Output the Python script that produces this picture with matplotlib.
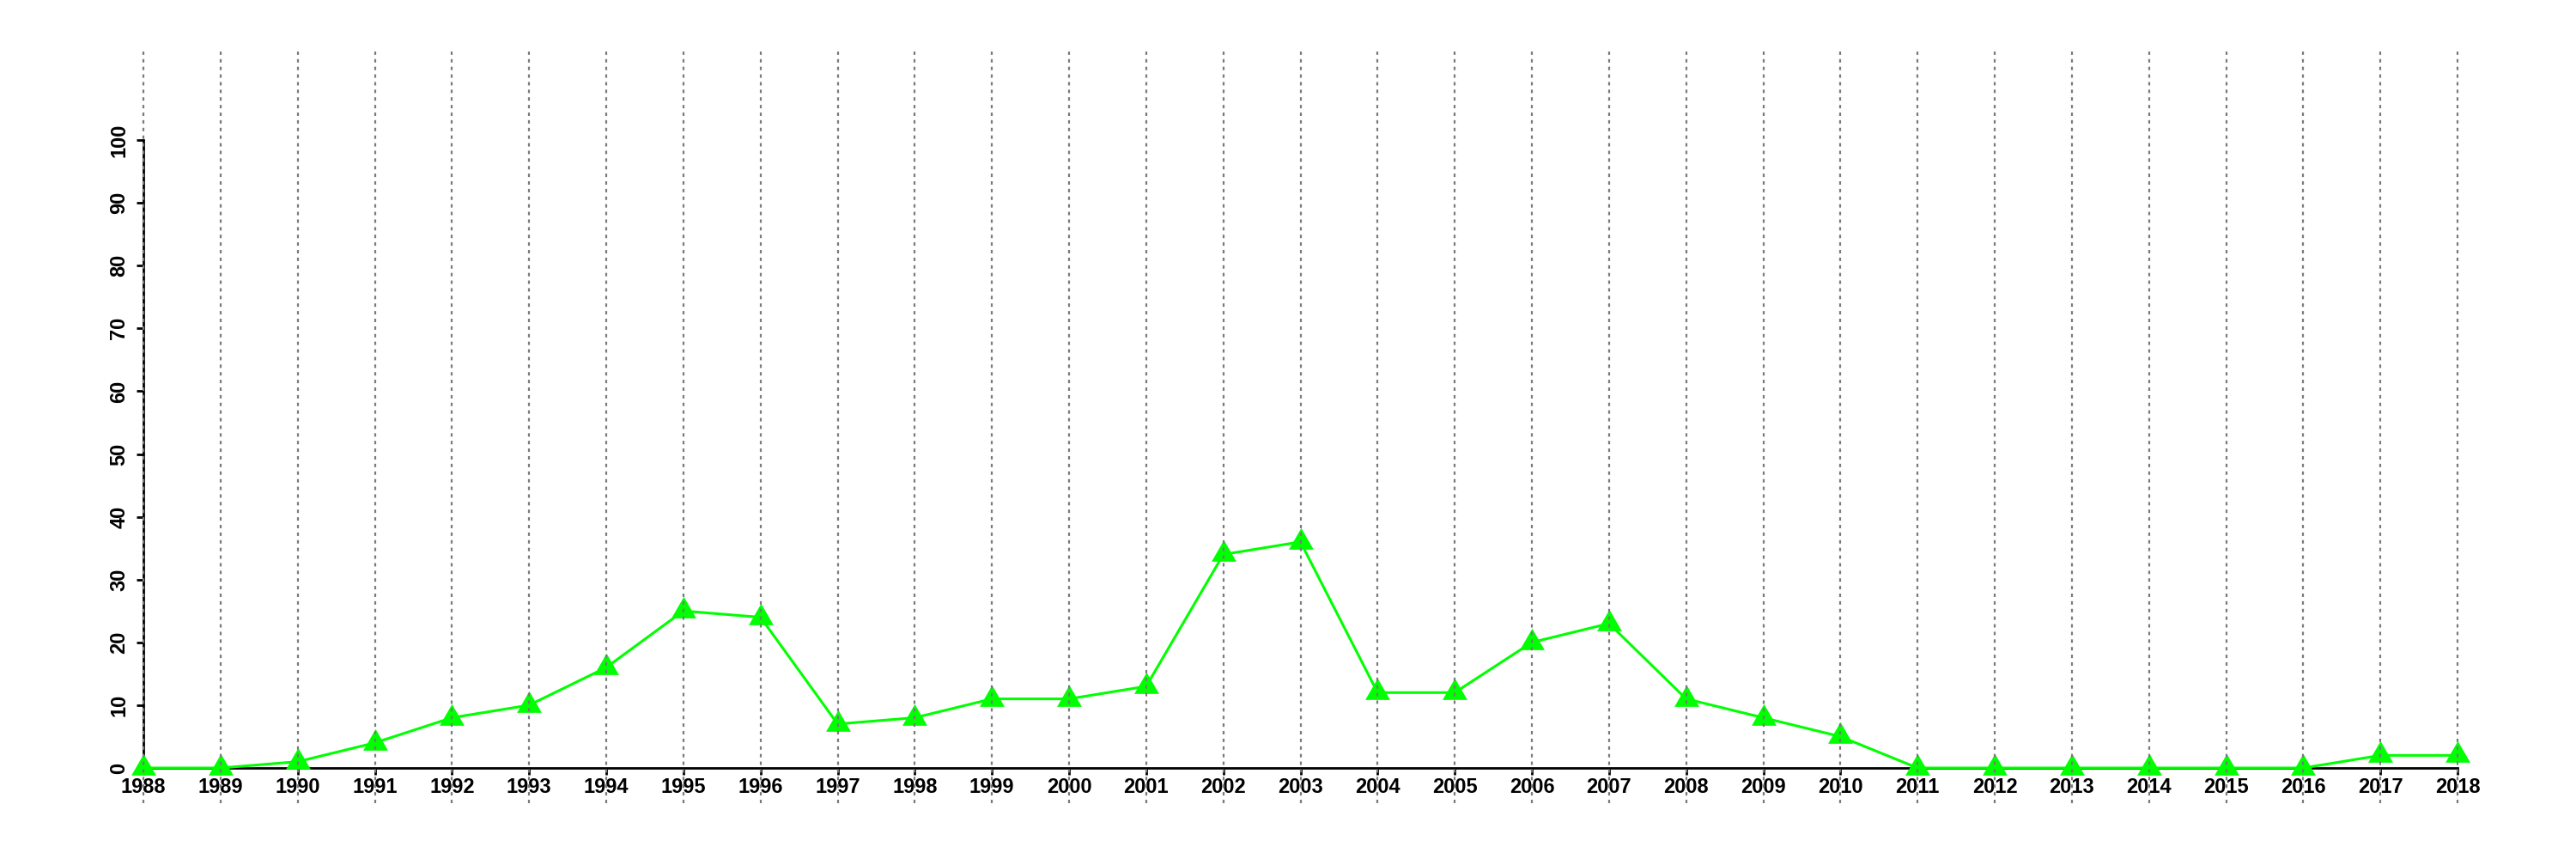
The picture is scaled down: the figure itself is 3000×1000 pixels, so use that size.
import matplotlib
matplotlib.use('Agg')
import matplotlib.pyplot as plt
import numpy as np

years = list(range(1988, 2019))
counts = [0, 0, 1, 4, 8, 10, 16, 25, 24, 7, 8, 11, 11, 13, 34, 36,
          12, 12, 20, 23, 11, 8, 5, 0, 0, 0, 0, 0, 0, 2, 2]
yticks = list(range(0, 101, 10))

plt.rcParams['font.family'] = ['Liberation Sans', 'DejaVu Sans']

fig = plt.figure(figsize=(30, 10), dpi=100)
# axes placed so that 1988..2018 spans px 167..2862, y 0..100 spans px 894..163
px_per_year = (2862 - 167) / 30
px_per_unit = (894 - 163) / 100
x0, x1 = 1987, 2019
y0 = -(935 - 894) / px_per_unit
y1 = 100 + (163 - 60) / px_per_unit
left = (167 - px_per_year) / 3000
width = (x1 - x0) * px_per_year / 3000
ax = fig.add_axes([left, 1 - 935 / 1000, width, (935 - 60) / 1000])
ax.set_xlim(x0, x1)
ax.set_ylim(y0, y1)

# equilateral triangle like R pch 17
tri = [(0, 0.577), (-0.5, -0.289), (0.5, -0.289), (0, 0.577)]

for yr in years:
    ax.axvline(yr, color='#7a7a7a', lw=1.6, linestyle=(0, (1.8, 2.2)), zorder=5)

ax.plot(years, counts, color='#00FF00', lw=2.2, zorder=3)
ax.plot(years, counts, linestyle='none', marker=tri, markersize=24,
        markerfacecolor='#00FF00', markeredgewidth=0, zorder=4, clip_on=False)

for s in ['top', 'right']:
    ax.spines[s].set_visible(False)
ax.spines['left'].set_position(('data', 1988))
ax.spines['bottom'].set_position(('data', 0))
ax.spines['left'].set_bounds(0, 100)
ax.spines['bottom'].set_bounds(1988, 2018)
ax.spines['left'].set_linewidth(2)
ax.spines['bottom'].set_linewidth(2)

ax.set_xticks(years)
ax.set_xticklabels([str(y) for y in years])
ax.set_yticks(yticks)
ax.set_yticklabels([str(v) for v in yticks], rotation=90, va='center')
ax.tick_params(axis='both', direction='out', length=6, width=2,
               labelsize=17)
ax.tick_params(axis='x', pad=2)
ax.tick_params(axis='y', pad=6)
for lab in ax.get_xticklabels() + ax.get_yticklabels():
    lab.set_fontweight('bold')

ax.patch.set_visible(False)
fig.savefig('out.png', dpi=100)
